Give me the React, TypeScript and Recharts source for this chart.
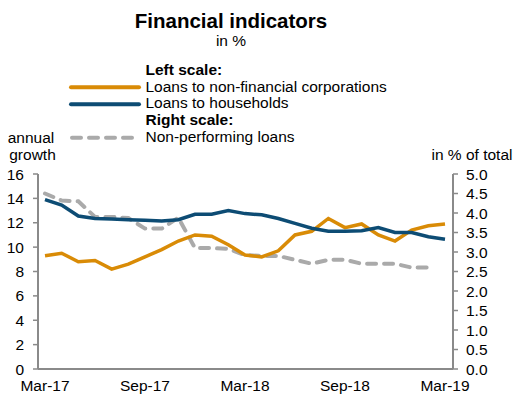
import React from "react";
import { LineChart, Line, XAxis, YAxis } from "recharts";

const months = [
  "Mar-17", "Apr-17", "May-17", "Jun-17", "Jul-17", "Aug-17", "Sep-17", "Oct-17", "Nov-17", "Dec-17",
  "Jan-18", "Feb-18", "Mar-18", "Apr-18", "May-18", "Jun-18", "Jul-18", "Aug-18", "Sep-18", "Oct-18",
  "Nov-18", "Dec-18", "Jan-19", "Feb-19", "Mar-19",
];
const corporations = [
  9.3, 9.5, 8.8, 8.9, 8.2, 8.6, 9.2, 9.8, 10.5, 11.0,
  10.9, 10.2, 9.35, 9.2, 9.7, 11.0, 11.3, 12.35, 11.6, 11.9,
  11.0, 10.5, 11.4, 11.75, 11.9,
];
const households = [
  13.9, 13.45, 12.55, 12.35, 12.3, 12.25, 12.2, 12.15, 12.25, 12.7,
  12.7, 13.0, 12.75, 12.65, 12.35, 11.95, 11.55, 11.3, 11.3, 11.35,
  11.6, 11.2, 11.2, 10.85, 10.65,
];
const npl: (number | null)[] = [
  4.5, 4.32, 4.3, 3.9, 3.9, 3.87, 3.6, 3.6, 3.88, 3.1,
  3.1, 3.08, 2.92, 2.9, 2.9, 2.8, 2.7, 2.8, 2.8, 2.7,
  2.7, 2.7, 2.6, 2.6, null,
];
const leftTicks = [0, 2, 4, 6, 8, 10, 12, 14, 16];
const rightTicks = [0, 0.5, 1, 1.5, 2, 2.5, 3, 3.5, 4, 4.5, 5];
const xTicks = ["Mar-17", "Sep-17", "Mar-18", "Sep-18", "Mar-19"];

const data = months.map((m, i) => ({
  month: m,
  corp: corporations[i],
  hh: households[i],
  npl: npl[i],
}));

const ORANGE = "#D98B06";
const BLUE = "#0D4C74";
const GRAY = "#AAAAAA";
const AXIS = "#8A8A8A";
const FONT = "'Liberation Sans', Arial, sans-serif";
const FS = 15.5;

export default function App() {
  const tickStyle = { fill: "#000", fontSize: FS, fontFamily: FONT };
  return (
    <div style={{ position: "absolute", left: 0, top: 0, width: 513, height: 396, background: "#fff" }}>
      <LineChart
        width={513}
        height={396}
        data={data}
        margin={{ top: 174, right: 0, bottom: 0, left: 0 }}
      >
        <XAxis
          dataKey="month"
          ticks={xTicks}
          interval={0}
          padding={{ left: 7, right: 8 }}
          tickLine={false}
          tickSize={0}
          tickMargin={11}
          height={27}
          axisLine={{ stroke: AXIS, strokeWidth: 2 }}
          tick={tickStyle}
        />
        <YAxis
          yAxisId="left"
          orientation="left"
          width={38}
          domain={[0, 16]}
          ticks={leftTicks}
          interval={0}
          tickSize={5}
          tickMargin={9}
          axisLine={{ stroke: AXIS, strokeWidth: 2 }}
          tickLine={{ stroke: AXIS, strokeWidth: 1.5 }}
          tick={tickStyle}
        />
        <YAxis
          yAxisId="right"
          orientation="right"
          width={60}
          domain={[0, 5]}
          ticks={rightTicks}
          interval={0}
          tickSize={5}
          tickMargin={8}
          tickFormatter={(v: number) => v.toFixed(1)}
          axisLine={{ stroke: AXIS, strokeWidth: 2 }}
          tickLine={{ stroke: AXIS, strokeWidth: 1.5 }}
          tick={tickStyle}
        />
        <Line
          yAxisId="right"
          dataKey="npl"
          stroke={GRAY}
          strokeWidth={4}
          strokeDasharray="9 8"
          strokeLinecap="round"
          dot={false}
          activeDot={false}
          isAnimationActive={false}
          type="linear"
        />
        <Line
          yAxisId="left"
          dataKey="corp"
          stroke={ORANGE}
          strokeWidth={3.5}
          dot={false}
          activeDot={false}
          isAnimationActive={false}
          type="linear"
        />
        <Line
          yAxisId="left"
          dataKey="hh"
          stroke={BLUE}
          strokeWidth={3.5}
          dot={false}
          activeDot={false}
          isAnimationActive={false}
          type="linear"
        />
      </LineChart>
      <svg
        width={513}
        height={174}
        style={{ position: "absolute", left: 0, top: 0, pointerEvents: "none" }}
        fontFamily={FONT}
      >
        <text x={231} y={28} textAnchor="middle" fontSize={20.5} fontWeight="bold" fill="#000">
          Financial indicators
        </text>
        <text x={231} y={46} textAnchor="middle" fontSize={FS} fill="#000">
          in %
        </text>
        <text x={145.5} y={75} fontSize={FS} fontWeight="bold" fill="#000">Left scale:</text>
        <line x1={71} y1={87.3} x2={139} y2={87.3} stroke={ORANGE} strokeWidth={4} strokeLinecap="round" />
        <text x={145.5} y={91.7} fontSize={FS} fill="#000">Loans to non-financial corporations</text>
        <line x1={71} y1={104.3} x2={139} y2={104.3} stroke={BLUE} strokeWidth={4} strokeLinecap="round" />
        <text x={145.5} y={108.4} fontSize={FS} fill="#000">Loans to households</text>
        <text x={145.5} y={125} fontSize={FS} fontWeight="bold" fill="#000">Right scale:</text>
        <line x1={72} y1={137.8} x2={134} y2={137.8} stroke={GRAY} strokeWidth={4} strokeDasharray="9 8" strokeLinecap="round" />
        <text x={145.5} y={141.7} fontSize={FS} fill="#000">Non-performing loans</text>
        <text x={31} y={142.5} textAnchor="middle" fontSize={FS} fill="#000">annual</text>
        <text x={32.5} y={159.5} textAnchor="middle" fontSize={FS} fill="#000">growth</text>
        <text x={431.5} y={159.5} fontSize={FS} fill="#000">in % of total</text>
      </svg>
    </div>
  );
}
